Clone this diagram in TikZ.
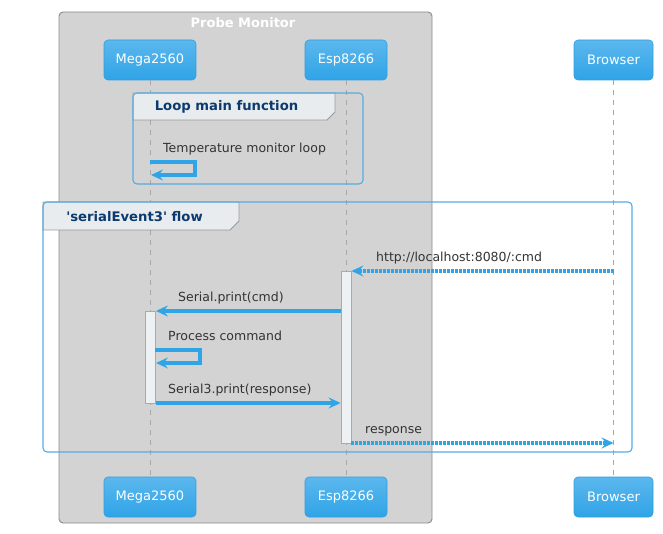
\documentclass[tikz,border=0pt]{standalone}
\usepackage{fontspec}
\setmainfont{DejaVu Sans}[Ligatures=TeXOff]
\usetikzlibrary{arrows.meta}
\definecolor{pfill}{HTML}{D3D3D3}
\definecolor{pborder}{HTML}{8A8A8A}
\definecolor{htop}{HTML}{5CB7ED}
\definecolor{hbot}{HTML}{2FA4E7}
\definecolor{hborder}{HTML}{2D9FE2}
\definecolor{arrowc}{HTML}{2FA4E7}
\definecolor{framec}{HTML}{56ACE2}
\definecolor{tabfill}{HTML}{E9ECEF}
\definecolor{tabborder}{HTML}{9A9A9A}
\definecolor{gtitle}{HTML}{0B3B6E}
\definecolor{msgtext}{HTML}{333333}
\definecolor{actfill}{HTML}{EEF1F4}
\definecolor{actborder}{HTML}{AAAAAA}
\definecolor{lifec}{HTML}{A8A8A8}
\tikzset{
  head/.style={rectangle, rounded corners=4pt, draw=hborder, line width=0.6pt,
    top color=htop, bottom color=hbot, text=white, font=\fontsize{13}{15}\selectfont,
    minimum height=40pt, inner sep=0pt},
  life/.style={draw=lifec, line width=0.9pt, dash pattern=on 5pt off 5pt},
  actbox/.style={rectangle, draw=actborder, fill=actfill, line width=0.9pt, inner sep=0pt, minimum width=10pt},
  solidmsg/.style={draw=arrowc, line width=3.2pt, -{Stealth[length=12pt,width=11pt,inset=4.5pt]}},
  dotmsg/.style={draw=arrowc, line width=3.2pt, dash pattern=on 2.4pt off 1.6pt, -{Stealth[length=12pt,width=11pt,inset=4.5pt]}},
  selfmsg/.style={draw=arrowc, line width=3.2pt, -{Stealth[length=12pt,width=11pt,inset=4.5pt]}},
  msglabel/.style={anchor=base west, text=msgtext, font=\fontsize{12.5}{14}\selectfont, inner sep=0pt},
  gtitlestyle/.style={text=gtitle, font=\bfseries\fontsize{13.2}{15}\selectfont, inner sep=0pt},
  framebox/.style={draw=framec, line width=1.1pt, rounded corners=4pt},
  tabbox/.style={draw=tabborder, fill=tabfill, line width=0.9pt},
}
\begin{document}
\begin{tikzpicture}[x=1pt,y=-1pt]
\useasboundingbox (0,0) rectangle (663,534);
% Probe Monitor box
\node[draw=pborder, fill=pfill, rounded corners=4pt, line width=0.9pt, minimum width=373pt, minimum height=511pt, inner sep=0pt] (probe) at (245.5,267.5) {};
\node[text=white, font=\bfseries\fontsize{13}{15}\selectfont, inner sep=0pt] (probetitle) at (243,23) {Probe Monitor};

% participants
\node[head, minimum width=92pt] (megaT) at (150,60) {Mega2560};
\node[head, minimum width=82pt] (espT) at (346,60) {Esp8266};
\node[head, minimum width=79pt] (brwT) at (613.5,60) {Browser};
\node[head, minimum width=92pt] (megaB) at (150,497) {Mega2560};
\node[head, minimum width=82pt] (espB) at (346,497) {Esp8266};
\node[head, minimum width=79pt] (brwB) at (613.5,497) {Browser};

% lifelines
\draw[life] (megaT.south) -- (megaB.north);
\draw[life] (espT.south) -- (espB.north);
\draw[life] (brwT.south) -- (brwB.north);

% Loop group
\draw[tabbox] (133,93) -- (335,93) -- (335,112) -- (327,120) -- (133,120) -- cycle;
\node[framebox, minimum width=230pt, minimum height=91pt, inner sep=0pt] (loopframe) at (248,138.5) {};
\node[gtitlestyle] (looptitle) at (226.5,106.5) {Loop main function};

% loop self message
\node[msglabel] (lbl0) at (163,152.5) {Temperature monitor loop};
\coordinate (s0a) at (150,162);
\coordinate (s0b) at (195,162);
\coordinate (s0c) at (195,175);
\coordinate (s0d) at (151,175);
\draw[selfmsg] (s0a) -- (s0b) -- (s0c) -- (s0d);

% serialEvent3 group
\draw[tabbox] (43,202) -- (239,202) -- (239,221) -- (230,230) -- (43,230) -- cycle;
\node[framebox, minimum width=589pt, minimum height=250pt, inner sep=0pt] (sframe) at (337.5,327) {};
\node[gtitlestyle] (stitle) at (134.5,216.5) {'serialEvent3' flow};

% activations
\node[actbox, minimum height=172pt] (actE) at (346,357) {};
\node[actbox, minimum height=92pt] (actM) at (150.5,357) {};

% message 1
\coordinate (m1) at (0,271);
\draw[dotmsg] (brwT.south |- m1) -- (actE.east |- m1);
\node[msglabel] (lbl1) at (376,261.5) {http://localhost:8080/:cmd};

% message 2
\coordinate (m2) at (0,311);
\draw[solidmsg] (actE.west |- m2) -- (actM.east |- m2);
\node[msglabel] (lbl2) at (178,301.5) {Serial.print(cmd)};

% self message
\node[msglabel] (lbl3) at (168,340.5) {Process command};
\coordinate (s1a) at (155,350);
\coordinate (s1b) at (200,350);
\coordinate (s1c) at (200,363);
\coordinate (s1d) at (156,363);
\draw[selfmsg] (s1a) -- (s1b) -- (s1c) -- (s1d);

% message 3
\coordinate (m3) at (0,403);
\draw[solidmsg] (actM.east |- m3) -- (actE.west |- m3);
\node[msglabel] (lbl4) at (168,393.5) {Serial3.print(response)};

% message 4
\coordinate (m4) at (0,443);
\draw[dotmsg] (actE.east |- m4) -- (brwT.south |- m4);
\node[msglabel] (lbl5) at (365,433.5) {response};
\end{tikzpicture}
\end{document}
